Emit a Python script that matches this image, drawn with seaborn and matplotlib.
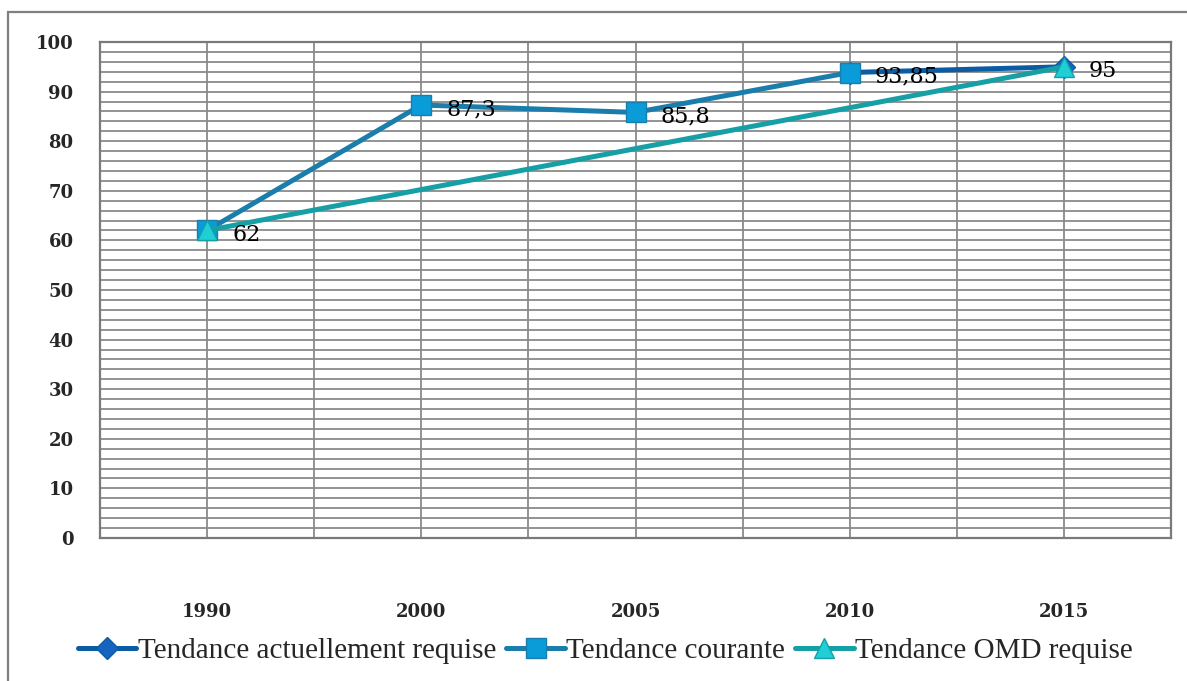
import numpy as np
import pandas as pd
import matplotlib
matplotlib.use("Agg")
import matplotlib.pyplot as plt
import matplotlib.ticker as ticker
from matplotlib.patches import Rectangle
import seaborn as sns

# --- données ---
annees = ["1990", "2000", "2005", "2010", "2015"]
actuellement_requise = [np.nan, np.nan, np.nan, 93.85, 95]
courante = [62, 87.3, 85.8, 93.85, np.nan]
omd_requise = [62, np.nan, np.nan, np.nan, 95]
etiquettes_y = [62, 87.3, 85.8, 93.85, 95]

series = [
    ("Tendance actuellement requise", actuellement_requise, "#0B5CA3", "D", "#1565C0", "#0B5CA3", 11),
    ("Tendance courante", courante, "#1A7DAB", "s", "#0A9BD9", "#1A7DAB", 14),
    ("Tendance OMD requise", omd_requise, "#16A0A6", "^", "#1ECFD8", "#16A0A6", 15),
]

sns.set_style("white")
plt.rcParams['font.family'] = ['Liberation Serif', 'DejaVu Serif']

fig = plt.figure(figsize=(11.87, 6.81), dpi=100)
ax = fig.add_axes([100 / 1187, 1 - 538 / 681, 1071 / 1187, 496 / 681])

# cadre extérieur
fig.patches.append(Rectangle((8 / 1187, -0.1), 1.2, 1 - 12 / 681 + 0.1,
                             transform=fig.transFigure, fill=False,
                             edgecolor="#7f7f7f", linewidth=1.6, zorder=0))

x = np.arange(len(annees))
for nom, vals, couleur, mk, fc, ec, ms in series:
    df = pd.DataFrame({"x": x, "y": vals}).dropna()
    sns.lineplot(data=df, x="x", y="y", ax=ax, color=couleur, linewidth=3.6,
                 marker=mk, markersize=ms, markerfacecolor=fc,
                 markeredgecolor=ec, markeredgewidth=1.0, label=nom,
                 zorder=3, legend=False)

# étiquettes de données
for xi, v in zip(x, etiquettes_y):
    txt = f"{v:g}".replace(".", ",")
    ax.annotate(txt, (xi, v), xytext=(18, -3), textcoords="offset points",
                ha="left", va="center", fontsize=16, color="black", zorder=5,
                family="DejaVu Serif")

# axes
ax.set_xlim(-0.5, len(annees) - 0.5)
ax.set_ylim(0, 100)
ax.yaxis.set_major_locator(ticker.MultipleLocator(10))
ax.yaxis.set_minor_locator(ticker.MultipleLocator(2))
ax.xaxis.set_major_locator(ticker.FixedLocator(np.arange(-0.5, len(annees), 1)))
ax.xaxis.set_major_formatter(ticker.NullFormatter())
ax.xaxis.set_minor_locator(ticker.FixedLocator(x))
ax.xaxis.set_minor_formatter(ticker.FixedFormatter(annees))

grid_c = "#8a8a8a"
ax.grid(True, which="both", axis="y", color=grid_c, linewidth=1.3)
ax.grid(True, which="both", axis="x", color=grid_c, linewidth=1.3)
ax.set_axisbelow(True)

ax.tick_params(axis="y", which="major", direction="out", length=7, width=1.3,
               color="#7a7a7a", pad=12, labelsize=13)
ax.tick_params(axis="y", which="minor", length=0)
ax.tick_params(axis="x", which="major", direction="out", length=7, width=1.3,
               color="#7a7a7a")
ax.tick_params(axis="x", which="minor", length=0, pad=47, labelsize=13)
for lab in ax.get_yticklabels() + ax.get_xticklabels(minor=True):
    lab.set_family("DejaVu Serif")
    lab.set_fontweight("bold")

for s in ax.spines.values():
    s.set_color("#7a7a7a")
    s.set_linewidth(1.6)
ax.set_xlabel("")
ax.set_ylabel("")

handles, labels = ax.get_legend_handles_labels()
fig.legend(handles, labels, loc="center", bbox_to_anchor=(0.51, 1 - 651 / 681),
           ncol=3, frameon=False, fontsize=21, handlelength=2.0,
           handletextpad=0.05, columnspacing=0.35)

fig.savefig("out.png", dpi=100, facecolor="white")
